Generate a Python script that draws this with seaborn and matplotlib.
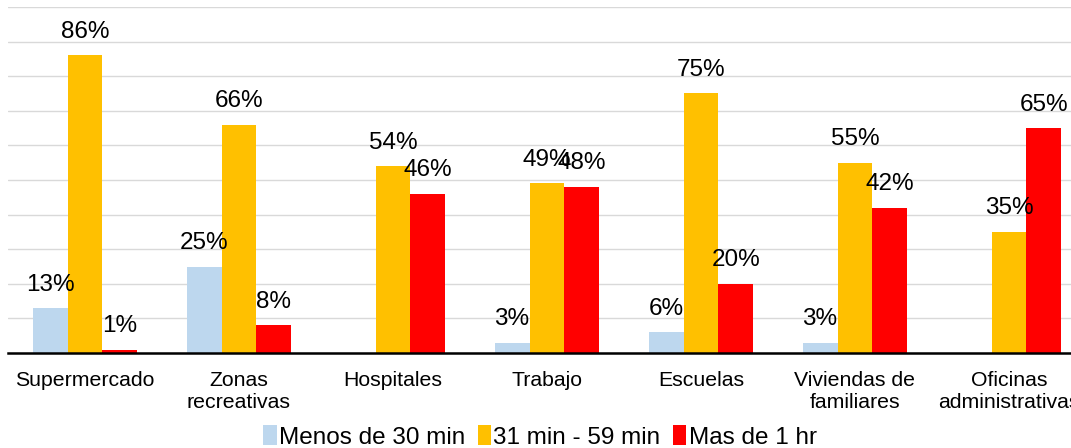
import pandas as pd
import matplotlib.pyplot as plt
import seaborn as sns

# data
lugares = ['Supermercado', 'Zonas\nrecreativas', 'Hospitales', 'Trabajo',
           'Escuelas', 'Viviendas de\nfamiliares', 'Oficinas\nadministrativas']
menos_30 = [13, 25, 0, 3, 6, 3, 0]
min_31_59 = [86, 66, 54, 49, 75, 55, 35]
mas_1hr = [1, 8, 46, 48, 20, 42, 65]
series = ['Menos de 30 min', '31 min - 59 min', 'Mas de 1 hr']
colores = ['#BDD7EE', '#FFC000', '#FF0000']

df = pd.DataFrame({'lugar': lugares * 3,
                   'serie': [series[0]] * 7 + [series[1]] * 7 + [series[2]] * 7,
                   'valor': menos_30 + min_31_59 + mas_1hr})

sns.set_style('white')
plt.rcParams['font.family'] = ['Liberation Sans', 'DejaVu Sans']
plt.rcParams['text.color'] = 'black'
plt.rcParams['xtick.color'] = 'black'

fig = plt.figure(figsize=(10.71, 4.48), dpi=100)
ax = fig.add_axes([8 / 1071, 1 - 353 / 448, 1078 / 1071, 346 / 448])

sns.barplot(data=df, x='lugar', y='valor', hue='serie', hue_order=series,
            palette=colores, width=0.68, gap=0, saturation=1, ax=ax,
            errorbar=None, legend=True, linewidth=0)

for cont in ax.containers:
    etiquetas = [f'{v:.0f}%' if v > 0 else '' for v in cont.datavalues]
    ax.bar_label(cont, labels=etiquetas, padding=9, fontsize=17.5, color='black')

ax.set_ylim(0, 100)
ax.set_yticks(range(0, 101, 10))
ax.set_yticklabels([])
ax.tick_params(axis='y', length=0)
ax.yaxis.grid(True, color='#d9d9d9', linewidth=1)
ax.set_axisbelow(True)
ax.set_xlim(-0.5, 6.5)
ax.set_xlabel('')
ax.set_ylabel('')
ax.tick_params(axis='x', length=0, labelsize=15.3, pad=13, labelcolor='black')
for s in ['top', 'right', 'left']:
    ax.spines[s].set_visible(False)
ax.spines['bottom'].set_color('black')
ax.spines['bottom'].set_linewidth(1.8)

ax.legend(loc='center', bbox_to_anchor=(540 / 1071, 1 - 437 / 448),
          bbox_transform=fig.transFigure, ncol=3, frameon=False,
          fontsize=17.5, handlelength=0.55, handleheight=0.85,
          handletextpad=0.1, columnspacing=0.5, borderaxespad=0)

fig.savefig('out.png', dpi=100)
